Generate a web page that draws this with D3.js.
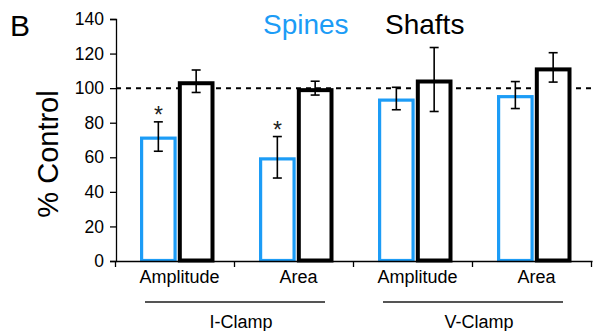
<!DOCTYPE html>
<html>
<head>
<meta charset="utf-8">
<script src="https://cdn.jsdelivr.net/npm/d3@7"></script>
<style>
  body { margin: 0; background: #fff; }
  svg { font-family: "Liberation Sans", Arial, Helvetica, sans-serif; }
</style>
</head>
<body>
<div id="chart"></div>
<script>
// Data
const conditions = ["I-Amp", "I-Area", "V-Amp", "V-Area"];
const conditionLabels = ["Amplitude", "Area", "Amplitude", "Area"];
const clampGroups = ["I-Clamp", "V-Clamp"];
const spines = [72, 60, 94, 96];
const spinesErr = [8.5, 12, 6.5, 7.8];
const shafts = [104, 100, 105, 112];
const shaftsErr = [6.5, 4, 18.5, 8.5];
const significant = [true, true, false, false];
const yTicks = [0, 20, 40, 60, 80, 100, 120, 140];

const blue = "#1c9cf6";

const svg = d3.select("#chart")
    .append("svg")
    .attr("width", 595)
    .attr("height", 331);

// Scales
const x = d3.scaleBand()
    .domain(conditions)
    .range([116, 592]);

const y = d3.scaleLinear()
    .domain([0, 140])
    .range([261, 19]);

// sub positions for the two bars inside each condition
const sub = d3.scaleBand()
    .domain(["spines", "shafts"])
    .range([-35.5, 39])
    .paddingInner(0.03);

// Y axis
const yAxis = svg.append("g")
    .attr("transform", "translate(116,0)")
    .call(d3.axisLeft(y).tickValues(yTicks).tickSize(6).tickPadding(6));
yAxis.select(".domain").attr("stroke", "#000").attr("stroke-width", 1.3);
yAxis.selectAll(".tick line").attr("stroke", "#000").attr("stroke-width", 1.3);
yAxis.selectAll(".tick text")
    .style("font-size", "17.5px")
    .attr("fill", "#000");

// Y label
svg.append("text")
    .attr("transform", "translate(58,154) rotate(-90)")
    .style("text-anchor", "middle")
    .style("font-size", "29px")
    .text("% Control");

// Panel letter
svg.append("text")
    .attr("x", 10)
    .attr("y", 36)
    .style("font-size", "30px")
    .text("B");

// Title / legend
svg.append("text")
    .attr("x", 263)
    .attr("y", 34)
    .style("font-size", "28px")
    .attr("fill", blue)
    .text("Spines");
svg.append("text")
    .attr("x", 385)
    .attr("y", 34)
    .style("font-size", "28px")
    .attr("fill", "#000")
    .text("Shafts");

// Reference line at 100%
svg.append("line")
    .attr("x1", 116)
    .attr("x2", 595)
    .attr("y1", y(100))
    .attr("y2", y(100))
    .attr("stroke", "#000")
    .attr("stroke-width", 2)
    .attr("stroke-dasharray", "5,5");

// Bars
const rows = conditions.map((c, i) => ({
    key: c,
    label: conditionLabels[i],
    bars: [
        { s: "spines", v: spines[i], e: spinesErr[i], color: blue, sw: 3.2 },
        { s: "shafts", v: shafts[i], e: shaftsErr[i], color: "#000", sw: 4 }
    ],
    sig: significant[i]
}));

const groups = svg.append("g")
    .selectAll("g")
    .data(rows)
    .enter()
    .append("g")
    .attr("transform", d => `translate(${x(d.key) + x.bandwidth() / 2},0)`);

groups.selectAll("rect")
    .data(d => d.bars)
    .enter()
    .append("rect")
    .attr("x", b => sub(b.s) + b.sw / 2)
    .attr("width", b => sub.bandwidth() - b.sw)
    .attr("y", b => y(b.v) + b.sw / 2)
    .attr("height", b => y(0) - y(b.v) - b.sw / 2 - 0.5)
    .attr("fill", "#fff")
    .attr("stroke", b => b.color)
    .attr("stroke-width", b => b.sw);

// Error bars
const err = groups.selectAll("g.err")
    .data(d => d.bars)
    .enter()
    .append("g")
    .attr("class", "err")
    .attr("stroke", "#000")
    .attr("stroke-width", 1.6);
err.append("line")
    .attr("x1", b => sub(b.s) + sub.bandwidth() / 2)
    .attr("x2", b => sub(b.s) + sub.bandwidth() / 2)
    .attr("y1", b => y(b.v + b.e))
    .attr("y2", b => y(b.v - b.e));
[1, -1].forEach(sign => {
    err.append("line")
        .attr("x1", b => sub(b.s) + sub.bandwidth() / 2 - 4.5)
        .attr("x2", b => sub(b.s) + sub.bandwidth() / 2 + 4.5)
        .attr("y1", b => y(b.v + sign * b.e))
        .attr("y2", b => y(b.v + sign * b.e));
});

// Significance asterisks
groups.filter(d => d.sig)
    .append("text")
    .attr("x", d => sub("spines") + sub.bandwidth() / 2)
    .attr("y", d => y(d.bars[0].v + d.bars[0].e) + 1)
    .style("text-anchor", "middle")
    .style("font-size", "23px")
    .attr("fill", "#222")
    .text("*");

// X axis
const xAxis = svg.append("g")
    .attr("transform", `translate(0,${y(0)})`)
    .call(d3.axisBottom(x).tickSize(0).tickFormat((d, i) => conditionLabels[i]).tickPadding(9));
xAxis.select(".domain").attr("stroke", "#000").attr("stroke-width", 1.3);
xAxis.selectAll(".tick text")
    .attr("dx", 4)
    .style("font-size", "18px")
    .attr("fill", "#000");

// boundary ticks between categories
const edges = conditions.map(c => x(c)).concat([x.range()[1]]);
svg.append("g")
    .selectAll("line")
    .data(edges)
    .enter()
    .append("line")
    .attr("x1", d => d - 0.5)
    .attr("x2", d => d - 0.5)
    .attr("y1", y(0))
    .attr("y2", y(0) + 6)
    .attr("stroke", "#000")
    .attr("stroke-width", 1.3);

// Clamp group brackets
clampGroups.forEach((g, i) => {
    const left = x(conditions[i * 2]);
    const right = x(conditions[i * 2 + 1]) + x.bandwidth();
    svg.append("line")
        .attr("x1", left + 29)
        .attr("x2", right - 29)
        .attr("y1", 302)
        .attr("y2", 302)
        .attr("stroke", "#555")
        .attr("stroke-width", 2);
    svg.append("text")
        .attr("x", (left + right) / 2 + 6)
        .attr("y", 328)
        .style("text-anchor", "middle")
        .style("font-size", "18px")
        .text(g);
});
</script>
</body>
</html>
